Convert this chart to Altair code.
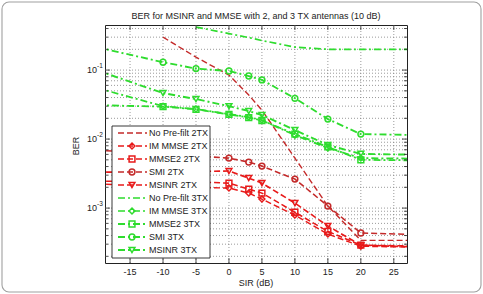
import altair as alt
import pandas as pd

FONT = "Liberation Sans"
TITLE = "BER for MSINR and MMSE with 2, and 3 TX antennas (10 dB)"

# SIR grid of the simulation (dB)
SIR = [-20, -10, -5, 0, 3, 5, 10, 15, 20, 30]

# BER, 2 transmit antennas
nopre_2tx = [None, 0.30, 0.154, 0.0846, 0.0435, 0.0263, 0.0053, 0.00107, 0.00034, 0.00034]
im_mmse_2tx = [0.00223, 0.0021, 0.0020, 0.00195, 0.00165, 0.00135, 0.00079, 0.00042, 0.00028, 0.00027]
mmse2_2tx = [0.00246, 0.0024, 0.0024, 0.0023, 0.00188, 0.00165, 0.00087, 0.00046, 0.00029, 0.00028]
smi_2tx = [0.0069, 0.0061, 0.0057, 0.0053, 0.00464, 0.00406, 0.00263, 0.00107, 0.000435, 0.00041]
msinr_2tx = [0.0033, 0.0034, 0.0034, 0.00344, 0.00272, 0.0023, 0.00118, 0.00055, 0.00029, 0.00027]

# BER, 3 transmit antennas
nopre_3tx = [None, None, 0.42, 0.338, 0.296, 0.268, 0.215, 0.20, 0.20, 0.20]
im_mmse_3tx = [0.055, 0.030, 0.0272, 0.023, 0.0208, 0.0188, 0.0114, 0.0074, 0.0053, 0.0052]
mmse2_3tx = [0.031, 0.0295, 0.027, 0.0228, 0.0205, 0.0186, 0.0118, 0.0077, 0.0050, 0.0049]
smi_3tx = [0.214, 0.13, 0.105, 0.097, 0.082, 0.072, 0.039, 0.0195, 0.0118, 0.0114]
msinr_3tx = [0.099, 0.0464, 0.038, 0.030, 0.0255, 0.0223, 0.0135, 0.0082, 0.0061, 0.0059]

names = ["No Pre-filt 2TX", "IM MMSE 2TX", "MMSE2 2TX", "SMI 2TX", "MSINR 2TX",
         "No Pre-filt 3TX", "IM MMSE 3TX", "MMSE2 3TX", "SMI 3TX", "MSINR 3TX"]
values = [nopre_2tx, im_mmse_2tx, mmse2_2tx, smi_2tx, msinr_2tx,
          nopre_3tx, im_mmse_3tx, mmse2_3tx, smi_3tx, msinr_3tx]
colors = ["#c42a2a", "#e81a1a", "#e81a1a", "#c42a2a", "#e81a1a",
          "#2edc2e", "#2edc2e", "#2edc2e", "#2edc2e", "#2edc2e"]
dashes = [[6, 3]] * 5 + [[7, 3, 2, 3]] * 5
widths = [1.4, 1.9, 1.9, 1.6, 1.9, 1.9, 1.9, 1.9, 1.9, 1.9]

marker_names = ["IM MMSE 2TX", "MMSE2 2TX", "SMI 2TX", "MSINR 2TX",
                "IM MMSE 3TX", "MMSE2 3TX", "SMI 3TX", "MSINR 3TX"]
marker_shapes = ["diamond", "square", "circle", "triangle-down"] * 2

x_ticks = [-15, -10, -5, 0, 5, 10, 15, 20, 25]
x_tick_labels = ["-15", "-10", "-5", "0", "5", "10", "15", "20", "25"]
decades = [1e-3, 1e-2, 1e-1]
exponents = ["-3", "-2", "-1"]
minor = [m * d for d in [1e-4, 1e-3, 1e-2, 1e-1] for m in range(2, 10)
         if 1.6e-4 <= m * d <= 0.45]

rows = []
for name, vals in zip(names, values):
    for s, b in zip(SIR, vals):
        if b is not None:
            rows.append({"series": name, "sir": s, "ber": b,
                         "group": "2TX" if name.endswith("2TX") else "3TX"})
df = pd.DataFrame(rows)

x_scale = alt.Scale(domain=[-18.8, 27], nice=False, zero=False)
y_scale = alt.Scale(type="log", domain=[1.6e-4, 0.45], nice=False)
color_scale = alt.Scale(domain=names, range=colors)
dash_scale = alt.Scale(domain=names, range=dashes)
width_scale = alt.Scale(domain=names, range=widths)
shape_scale = alt.Scale(domain=marker_names, range=marker_shapes)

# axes (grid, ticks and labels) are drawn as marks on the same scales
X = alt.X("sir:Q", scale=x_scale, axis=None)
Y = alt.Y("ber:Q", scale=y_scale, axis=None)
INK = "#222"
GRID = dict(color="#808080", strokeWidth=0.8, strokeDash=[1, 2])

base = alt.Chart(df)


def curves(group):
    sub = base.transform_filter(alt.datum.group == group)
    line = sub.mark_line(clip=True).encode(
        x=X, y=Y,
        color=alt.Color("series:N", scale=color_scale, legend=None),
        strokeDash=alt.StrokeDash("series:N", scale=dash_scale, legend=None),
        strokeWidth=alt.StrokeWidth("series:N", scale=width_scale, legend=None),
    )
    pts = sub.transform_filter(
        alt.FieldOneOfPredicate(field="series", oneOf=marker_names)
    ).mark_point(clip=True, filled=False, size=34, strokeWidth=1.5, opacity=1).encode(
        x=X, y=Y,
        color=alt.Color("series:N", scale=color_scale, legend=None),
        shape=alt.Shape("series:N", scale=shape_scale, legend=None),
    )
    return line + pts


# dotted grid
xg = alt.Chart(pd.DataFrame({"sir": x_ticks}))
x_grid = xg.mark_rule(**GRID).encode(x=X, y=alt.value(0), y2=alt.value(238))
yg = alt.Chart(pd.DataFrame({"ber": decades + minor}))
y_grid = yg.mark_rule(**GRID).encode(y=Y, x=alt.value(0), x2=alt.value(302))


# inward tick marks on all four sides
def y_ticks(vals, length):
    t = alt.Chart(pd.DataFrame({"ber": vals}))
    left = t.mark_rule(color=INK, strokeWidth=0.8).encode(
        y=Y, x=alt.value(0), x2=alt.value(length))
    right = t.mark_rule(color=INK, strokeWidth=0.8).encode(
        y=Y, x=alt.value(302), x2=alt.value(302 - length))
    return left + right


xt = alt.Chart(pd.DataFrame({"sir": x_ticks, "lab": x_tick_labels}))
bottom_ticks = xt.mark_rule(color=INK, strokeWidth=0.8).encode(
    x=X, y=alt.value(238), y2=alt.value(233))
top_ticks = xt.mark_rule(color=INK, strokeWidth=0.8).encode(
    x=X, y=alt.value(0), y2=alt.value(5))
x_labels = xt.mark_text(align="center", baseline="middle", font=FONT, fontSize=9,
                        color=INK).encode(x=X, y=alt.value(247), text="lab:N")

# decade labels 10^k
lab = alt.Chart(pd.DataFrame({"ber": decades, "e": exponents}))
ten = lab.mark_text(align="right", baseline="middle", font=FONT, fontSize=9,
                    color=INK).encode(y=Y, x=alt.value(-8), text=alt.value("10"))
expo = lab.mark_text(align="left", baseline="middle", font=FONT, fontSize=6.5,
                     color=INK, dy=-4).encode(y=Y, x=alt.value(-8), text="e:N")

# title and axis titles
one = alt.Chart(pd.DataFrame({"k": [0]}))
title = one.mark_text(align="center", baseline="middle", font=FONT, fontSize=9,
                      color=INK).encode(x=alt.value(151), y=alt.value(-9),
                                        text=alt.value(TITLE))
x_title = one.mark_text(align="center", baseline="middle", font=FONT, fontSize=9,
                        color=INK).encode(x=alt.value(151), y=alt.value(258),
                                          text=alt.value("SIR (dB)"))
y_title = one.mark_text(align="center", baseline="middle", font=FONT, fontSize=9,
                        color=INK, angle=270).encode(x=alt.value(-29), y=alt.value(121),
                                                     text=alt.value("BER"))

# rounded frame around the figure
frame = one.mark_rect(
    fillOpacity=0, stroke="#a0a0a0", strokeWidth=1.1, cornerRadius=7, clip=False
).encode(x=alt.value(-103), x2=alt.value(376), y=alt.value(-23), y2=alt.value(267))

main = alt.layer(frame, x_grid, y_grid, curves("2TX"), curves("3TX"),
                 y_ticks(decades, 5), y_ticks(minor, 3), bottom_ticks, top_ticks,
                 x_labels, ten, expo, title, x_title, y_title)

# legend box
leg_df = pd.DataFrame({"series": names, "row": list(range(len(names)))})
row_scale = alt.Scale(domain=[0, 9], range=[108, 225])
ROW = alt.Y("row:Q", scale=row_scale, axis=None)
lg = alt.Chart(leg_df)
box = one.mark_rect(fill="white", stroke=INK, strokeWidth=0.9).encode(
    x=alt.value(7), x2=alt.value(105), y=alt.value(101), y2=alt.value(233))
leg_lines = lg.mark_rule().encode(
    y=ROW, x=alt.value(13), x2=alt.value(42),
    color=alt.Color("series:N", scale=color_scale, legend=None),
    strokeDash=alt.StrokeDash("series:N", scale=dash_scale, legend=None),
    strokeWidth=alt.StrokeWidth("series:N", scale=width_scale, legend=None),
)
leg_pts = lg.transform_filter(
    alt.FieldOneOfPredicate(field="series", oneOf=marker_names)
).mark_point(filled=False, size=34, strokeWidth=1.5, opacity=1).encode(
    y=ROW, x=alt.value(27),
    color=alt.Color("series:N", scale=color_scale, legend=None),
    shape=alt.Shape("series:N", scale=shape_scale, legend=None),
)
leg_text = lg.mark_text(align="left", baseline="middle", font=FONT, fontSize=9,
                        color=INK).encode(y=ROW, x=alt.value(44), text="series:N")
legend = alt.layer(box, leg_lines, leg_pts, leg_text)

chart = alt.layer(main, legend).resolve_scale(y="independent").properties(
    width=302, height=238,
    padding={"left": 105, "top": 25, "right": 76, "bottom": 31},
    autosize=alt.AutoSizeParams(type="none"),
    background="white",
).configure_view(stroke=INK, strokeWidth=1)

chart.save("out.html", embed_options={"renderer": "svg", "actions": False})
